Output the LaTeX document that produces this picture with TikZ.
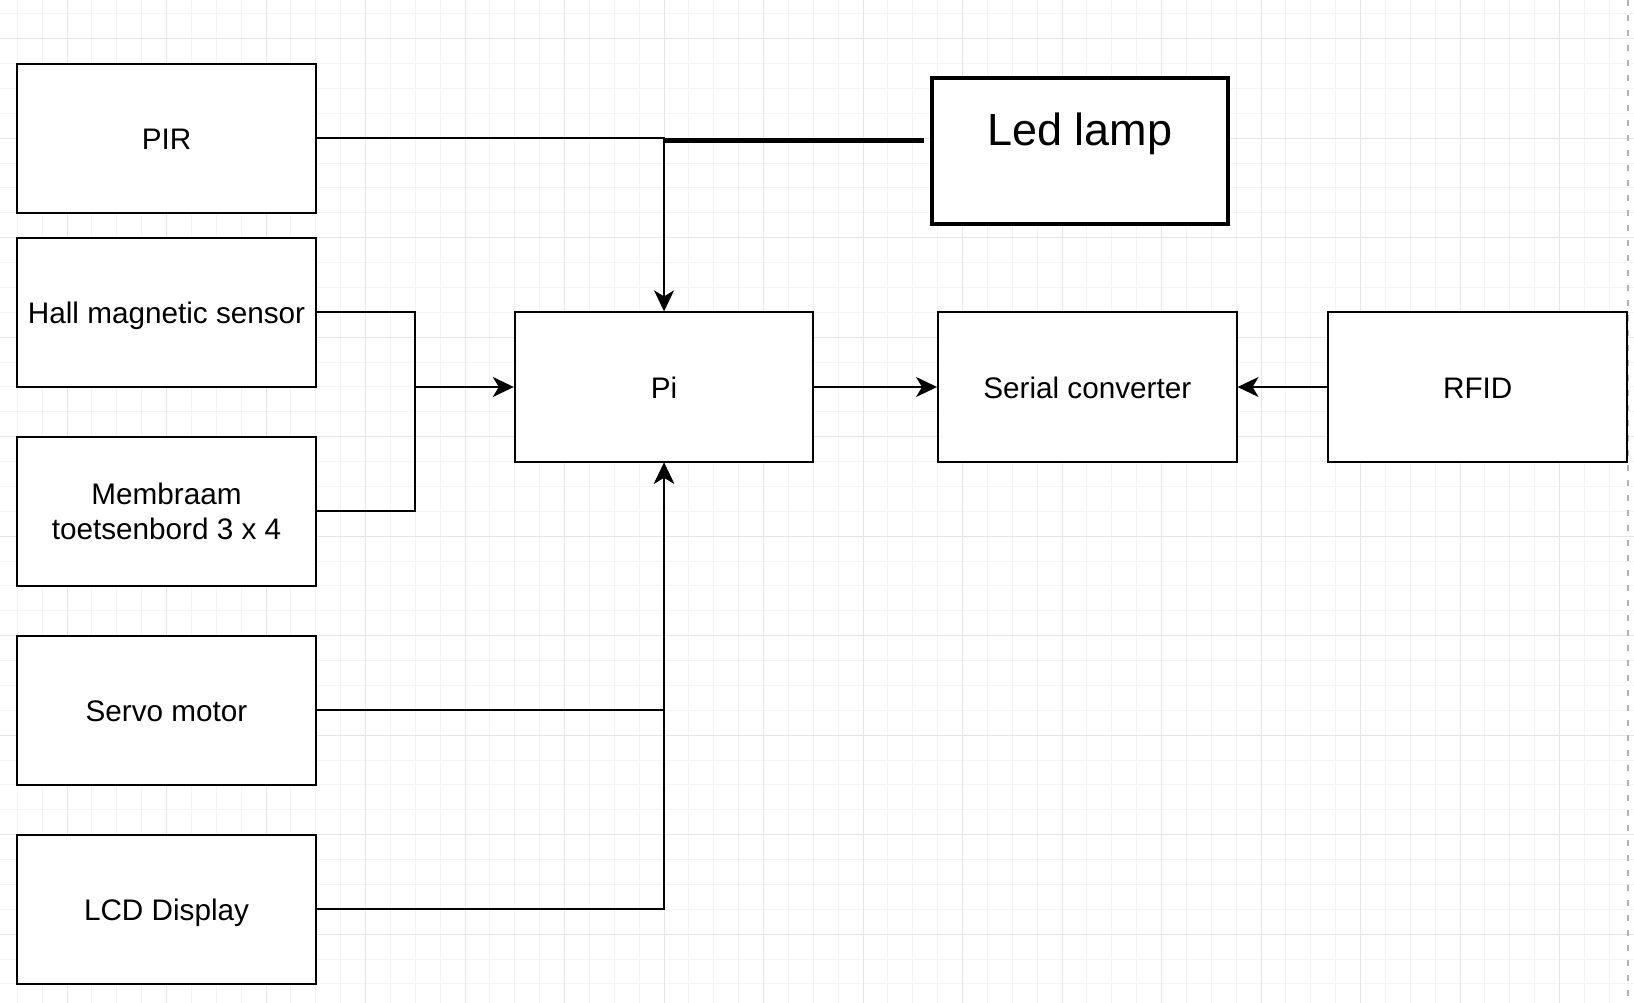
\documentclass[tikz,border=0pt]{standalone}
\usepackage{fontspec}
\setmainfont{Liberation Sans}
\usepackage{tikz}
\usetikzlibrary{arrows.meta}

\definecolor{gridminor}{HTML}{F4F4F4}
\definecolor{gridmajor}{HTML}{E6E6E6}
\definecolor{pageedge}{HTML}{B3B3B3}

\begin{document}
\begin{tikzpicture}[x=1pt, y=-1pt,
        block/.style={draw, line width=2pt, fill=white, minimum width=298.5pt, minimum height=149.25pt,
            inner sep=2pt, align=center, font=\fontsize{29.7}{35.4}\selectfont},
        sblock/.style={block, text height=26.7pt, text depth=4pt},
        ledbox/.style={draw, line width=4pt, fill=white, minimum width=296pt, minimum height=146pt},
        wire/.style={line width=2pt},
        conn/.style={wire, -{Stealth[length=21pt, width=20pt, inset=6pt]}},
        thickwire/.style={line width=5pt}]
        \useasboundingbox (0,0) rectangle (1634,1003);
        \fill[white] (0,0) rectangle (1634,1003);

        % Grid
        \foreach \i in {1,...,65} \draw[gridminor, line width=1pt] ({-7.575+24.875*\i},0) -- ++(0,1003);
        \foreach \j in {0,...,39} \draw[gridminor, line width=1pt] (0,{13.85+24.875*\j}) -- ++(1634,0);
        \foreach \i in {0,...,15} \draw[gridmajor, line width=1pt] ({67.05+99.5*\i},0) -- ++(0,1003);
        \foreach \j in {0,...,9} \draw[gridmajor, line width=1pt] (0,{38.725+99.5*\j}) -- ++(1634,0);
        \draw[pageedge, line width=1.5pt, dash pattern=on 6pt off 9pt] (1628,0) -- (1628,1003);

        % Blocks
        \node (pir) [sblock] at (166.55,138.2) {PIR};
        \node (hall) [sblock] at (166.55,312.35) {Hall magnetic sensor};
        \node (memb) [block] at (166.55,511.35) {Membraam\\toetsenbord 3 x 4};
        \node (servo) [sblock] at (166.55,710.35) {Servo motor};
        \node (lcd) [sblock] at (166.55,909.35) {LCD Display};
        \node (pi) [sblock] at (664.05,387) {Pi};
        \node (serial) [sblock] at (1087.3,387) {Serial converter};
        \node (rfid) [sblock] at (1477.7,387) {RFID};

        \node (led) [ledbox] at (1079.6,151.1) {};
        \node (ledtext) [font=\fontsize{45}{54}\selectfont] at (1079.6,134) {Led lamp};

        % Connections
        \path (pi.west) ++(-98.5,0) coordinate (hub);
        \path (pi.north |- 0,141) coordinate (tap);

        \draw[conn] (pir.east) -| (pi.north);
        \draw[thickwire] ([xshift=-6pt]led.west |- tap) -- (tap);
        \draw[wire] (hall.east) -| (hub) |- (memb.east);
        \draw[conn] (hub) -- (pi.west);
        \draw[conn] (servo.east) -| (pi.south);
        \draw[conn] (lcd.east) -| (pi.south);
        \draw[conn] (pi.east) -- (serial.west);
        \draw[conn] (rfid.west) -- (serial.east);
    \end{tikzpicture}
\end{document}
